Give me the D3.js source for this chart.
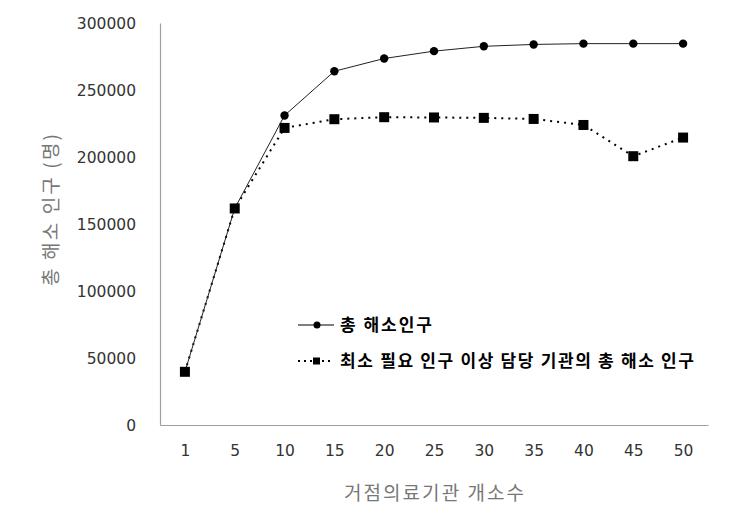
<!DOCTYPE html>
<html>
<head>
<meta charset="utf-8">
<script src="https://cdn.jsdelivr.net/npm/d3@7"></script>
<style>
  body { margin: 0; background: #fff; }
  svg { display: block; }
  .tick-label { font-family: "DejaVu Sans", "Noto Sans CJK KR", sans-serif; font-size: 15.5px; fill: #333; }
  .axis-title { font-family: "Noto Sans CJK KR", sans-serif; font-size: 19px; fill: #777; }
  .legend-text { font-family: "Noto Sans CJK KR", sans-serif; font-size: 17px; font-weight: bold; fill: #000; }
</style>
</head>
<body>
<div id="chart"></div>
<script>
// data
var categories = ["1", "5", "10", "15", "20", "25", "30", "35", "40", "45", "50"];
var totalResolved = [39700, 161600, 231000, 264000, 273500, 279000, 282600, 284000, 284600, 284600, 284600];
var minNeedResolved = [39700, 161600, 221700, 228200, 229700, 229500, 229200, 228400, 223900, 200600, 214500];
var yTickValues = [0, 50000, 100000, 150000, 200000, 250000, 300000];
var seriesNames = ["총 해소인구", "최소 필요 인구 이상 담당 기관의 총 해소 인구"];
var xTitle = "거점의료기관 개소수";
var yTitle = "총 해소 인구 (명)";

var W = 729, H = 516;
var margin = {top: 23, right: 21, bottom: 91, left: 160};
var width = W - margin.left - margin.right,
    height = H - margin.top - margin.bottom;

var svg = d3.select("#chart").append("svg")
    .attr("width", W)
    .attr("height", H);

var g = svg.append("g")
    .attr("transform", "translate(" + margin.left + "," + margin.top + ")");

var x = d3.scalePoint()
    .domain(categories)
    .range([0, width])
    .padding(0.5);

var y = d3.scaleLinear()
    .domain([0, 300000])
    .range([height, 0]);

// axes (no tick marks, just labels)
var yAxis = d3.axisLeft(y)
    .tickValues(yTickValues)
    .tickSize(0)
    .tickPadding(24)
    .tickFormat(d3.format("d"));

var xAxis = d3.axisBottom(x)
    .tickSize(0)
    .tickPadding(20);

var gy = g.append("g").attr("class", "axis axis--y").call(yAxis);
var gx = g.append("g").attr("class", "axis axis--x")
    .attr("transform", "translate(0," + height + ")")
    .call(xAxis);

[gx, gy].forEach(function(a) {
    a.select(".domain").attr("stroke", "#a0a0a0").attr("stroke-width", 1.2);
    a.selectAll(".tick text").attr("class", "tick-label").attr("font-family", null).attr("font-size", null);
});
gy.selectAll(".tick text").attr("dy", "0.35em");

// lines
var line_gen = d3.line()
    .x(function(d, i) { return x(categories[i]); })
    .y(function(d) { return y(d); });

g.append("path")
    .attr("d", line_gen(minNeedResolved))
    .attr("fill", "none")
    .attr("stroke", "#000")
    .attr("stroke-width", 2)
    .attr("stroke-dasharray", "2,5");

g.append("path")
    .attr("d", line_gen(totalResolved))
    .attr("fill", "none")
    .attr("stroke", "#222")
    .attr("stroke-width", 1);

// markers
g.append("g").selectAll("circle")
    .data(totalResolved)
    .enter().append("circle")
    .attr("cx", function(d, i) { return x(categories[i]); })
    .attr("cy", function(d) { return y(d); })
    .attr("r", 4.2)
    .attr("fill", "#000");

g.append("g").selectAll("rect")
    .data(minNeedResolved)
    .enter().append("rect")
    .attr("x", function(d, i) { return x(categories[i]) - 5; })
    .attr("y", function(d) { return y(d) - 5; })
    .attr("width", 10)
    .attr("height", 10)
    .attr("fill", "#000");

// legend
var legend = svg.append("g").attr("transform", "translate(298,325)");

var l1 = legend.append("g");
l1.append("line").attr("x1", 0).attr("x2", 36).attr("y1", 0).attr("y2", 0)
    .attr("stroke", "#000").attr("stroke-width", 1);
l1.append("circle").attr("cx", 19).attr("cy", 0).attr("r", 3.5).attr("fill", "#000");
l1.append("text").attr("class", "legend-text").attr("x", 42).attr("y", 0).attr("dy", "0.35em")
    .attr("textLength", 92).attr("lengthAdjust", "spacing")
    .text(seriesNames[0]);

var l2 = legend.append("g").attr("transform", "translate(0,36)");
l2.append("line").attr("x1", 0).attr("x2", 36).attr("y1", 0).attr("y2", 0)
    .attr("stroke", "#000").attr("stroke-width", 2).attr("stroke-dasharray", "2,4");
l2.append("rect").attr("x", 15).attr("y", -3.5).attr("width", 7).attr("height", 7).attr("fill", "#000");
l2.append("text").attr("class", "legend-text").attr("x", 42).attr("y", 0).attr("dy", "0.35em")
    .attr("textLength", 354).attr("lengthAdjust", "spacing")
    .text(seriesNames[1]);

// axis titles
svg.append("text")
    .attr("class", "axis-title")
    .attr("text-anchor", "middle")
    .attr("x", margin.left + width / 2)
    .attr("y", 500)
    .attr("textLength", 180).attr("lengthAdjust", "spacing")
    .text(xTitle);

svg.append("text")
    .attr("class", "axis-title")
    .attr("text-anchor", "middle")
    .attr("transform", "translate(58," + 210 + ") rotate(-90)")
    .attr("textLength", 152).attr("lengthAdjust", "spacing")
    .text(yTitle);
</script>
</body>
</html>
